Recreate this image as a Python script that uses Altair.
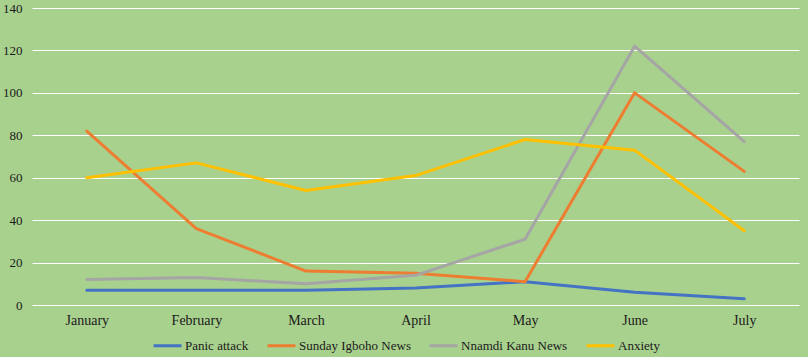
import altair as alt
import pandas as pd

months = ["January", "February", "March", "April", "May", "June", "July"]
series_names = ["Panic attack", "Sunday Igboho News", "Nnamdi Kanu News", "Anxiety"]
panic_attack = [7, 7, 7, 8, 11, 6, 3]
sunday_igboho = [82, 36, 16, 15, 11, 100, 63]
nnamdi_kanu = [12, 13, 10, 14, 31, 122, 77]
anxiety = [60, 67, 54, 61, 78, 73, 35]
colors = ["#4472c4", "#ed7d31", "#a5a5a5", "#ffc000"]

rows = []
for name, vals in zip(series_names, [panic_attack, sunday_igboho, nnamdi_kanu, anxiety]):
    for i, (m, v) in enumerate(zip(months, vals)):
        rows.append({"Month": m, "MonthIdx": i, "Series": name, "Value": v})
df = pd.DataFrame(rows)

font = "Liberation Serif"

chart = alt.Chart(df).mark_line(strokeWidth=3, strokeCap="round", strokeJoin="round").encode(
    x=alt.X("Month:N", sort=months, title=None,
            scale=alt.Scale(type="point", padding=0.5),
            axis=alt.Axis(labelAngle=0, grid=False, domain=False, ticks=False,
                          labelFont=font, labelFontSize=14, labelColor="#1a1a1a",
                          labelPadding=8)),
    y=alt.Y("Value:Q", title=None,
            scale=alt.Scale(domain=[0, 140], nice=False),
            axis=alt.Axis(values=[0, 20, 40, 60, 80, 100, 120, 140], grid=True,
                          gridColor="#ffffff", gridWidth=1, domain=False, ticks=False,
                          labelFont=font, labelFontSize=13, labelColor="#1a1a1a",
                          labelPadding=10)),
    color=alt.Color("Series:N", sort=series_names,
                    scale=alt.Scale(domain=series_names, range=colors),
                    legend=alt.Legend(title=None, orient="none", direction="horizontal",
                                      legendX=120, legendY=322, columns=4,
                                      symbolType="stroke", symbolSize=784,
                                      symbolStrokeWidth=3, columnPadding=12,
                                      labelOffset=2,
                                      labelFont=font, labelFontSize=13,
                                      labelColor="#1a1a1a")),
    order=alt.Order("MonthIdx:Q")
).properties(
    width=767, height=297,
    background="#a9d18e",
    padding={"left": 32, "top": 8, "right": 9, "bottom": 52},
    autosize=alt.AutoSizeParams(type="none")
).configure_view(stroke=None, fill="#a9d18e").configure_legend(
    labelFont=font, labelFontSize=13
).configure_axis(labelFont=font)

chart.save("out.html", embed_options={"renderer": "svg", "actions": False})
